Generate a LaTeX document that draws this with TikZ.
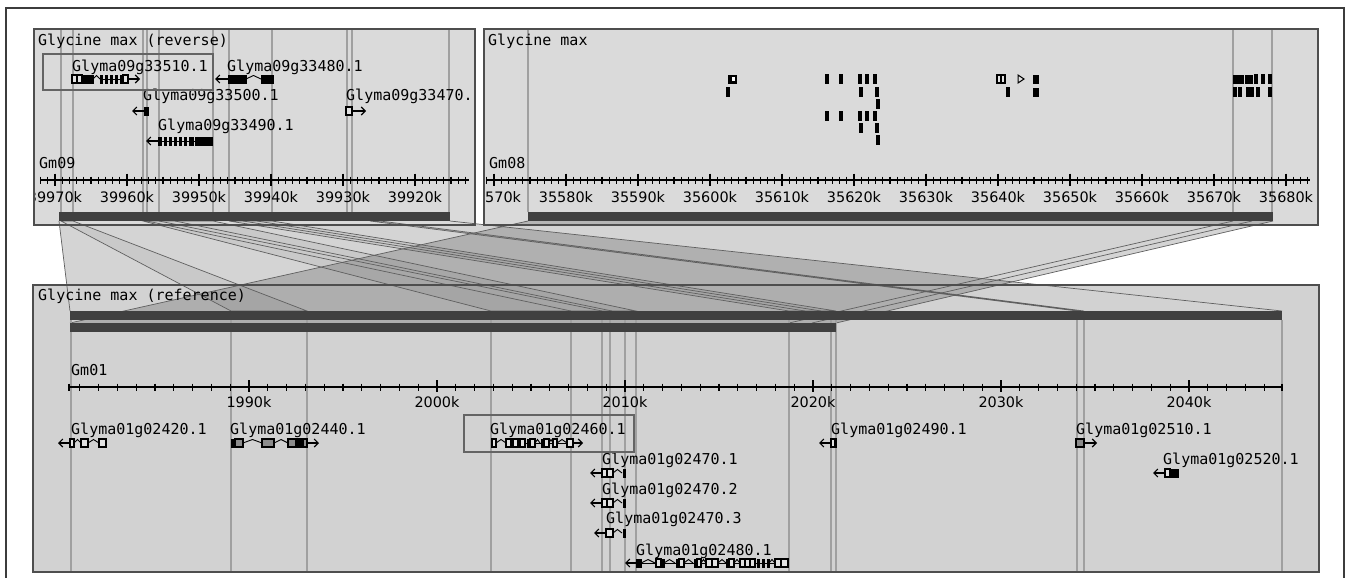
\documentclass[tikz,border=0pt]{standalone}
\usepackage{fontspec}
\usetikzlibrary{arrows.meta}
\newfontfamily\monofont{DejaVu Sans Mono}
\newfontfamily\tickfont{DejaVu Sans}
\definecolor{pbgtop}{RGB}{218,218,218}
\definecolor{pbgbot}{RGB}{210,210,210}
\definecolor{bardark}{RGB}{64,64,64}
\definecolor{vgray}{RGB}{160,160,160}
\definecolor{pborder}{RGB}{78,78,78}
\definecolor{hgray}{RGB}{100,100,100}
\definecolor{rline}{RGB}{95,95,95}
\definecolor{exlight}{RGB}{226,226,226}
\definecolor{exmid}{RGB}{140,140,140}
\definecolor{frame}{RGB}{60,60,60}
\tikzset{
  panelbg/.style={fill=#1, draw=none},
  panelborder/.style={draw=pborder, line width=1.8pt},
  vline/.style={draw=vgray, line width=1.2pt},
  darkbar/.style={fill=bardark, draw=none},
  axisline/.style={draw=black, line width=1.2pt},
  tickline/.style={draw=black, line width=1.1pt},
  mono/.style={font=\monofont\fontsize{15}{15}\selectfont, anchor=base west, inner sep=0pt},
  ticklbl/.style={font=\tickfont\fontsize{14.4}{14.4}\selectfont, anchor=base, inner sep=0pt},
  exon/.style={fill=black, draw=black, line width=0.6pt},
  exonopen/.style={fill=exlight, draw=black, line width=1.2pt},
  exongray/.style={fill=exmid, draw=black, line width=1.2pt},
  intron/.style={draw=black, line width=0.9pt},
  strand/.style={draw=black, line width=1.1pt, -{Straight Barb[length=4pt,width=8pt]}},
  ribfill/.style={fill=black, fill opacity=0.17, draw=none},
  subrib/.style={fill=black, fill opacity=0.05, draw=rline, draw opacity=1, line width=0.7pt},
  ribedge/.style={draw=rline, line width=0.7pt},
  hibox/.style={draw=hgray, line width=2.4pt},
}
\newcommand{\gbox}[4][exon]{\path[#1] (#2,#4-4) rectangle (#3,#4+4);}
\newcommand{\gcaret}[3]{\draw[intron] (#1,#3) -- ({(#1+#2)/2},#3-3.5) -- (#2,#3);}
\newcommand{\gtick}[2]{\path[exon] (#1-1,#2-4) rectangle (#1+1,#2+4);}
\newcommand{\gline}[3]{\draw[intron] (#1,#3) -- (#2,#3);}
\newcommand{\gdir}[3]{\draw[strand] (#1,#3) -- (#2,#3);}
\newcommand{\gmark}[3][2.6]{\path[exon] (#2-#1/2,#3-4.5) rectangle (#2+#1/2,#3+4.5);}
\begin{document}
\begin{tikzpicture}[x=1pt,y=-1pt]
\useasboundingbox (0,0) rectangle (1345,578);
\clip (0,0) rectangle (1345,578);
\fill[white] (0,0) rectangle (1345,578);
% outer frame
\draw[frame, line width=1.5pt] (6,600) -- (6,8) -- (1344,8) -- (1344,600);

% ribbon from panel 1 (under panel backgrounds)
\path[ribfill] (59,221) -- (450,221) -- (1282,311) -- (70,311) -- cycle;

% panel backgrounds
\path[panelbg=pbgtop] (34,29) rectangle (475,225);
\path[panelbg=pbgtop] (484,29) rectangle (1318,225);
\path[panelbg=pbgbot] (33,285) rectangle (1319,572);

% ribbon from panel 2
\path[ribfill] (528,221) -- (1273,221) -- (836,323) -- (70,323) -- cycle;
% sub ribbons
\path[subrib] (61,221) -- (73,221) -- (307,311) -- (231,311) -- cycle;
\path[subrib] (143,221) -- (213,221) -- (636,311) -- (491,311) -- cycle;
\path[subrib] (229,221) -- (272,221) -- (836,311) -- (789,311) -- cycle;
\path[subrib] (370,221) -- (380,221) -- (1084,311) -- (1077,311) -- cycle;
\foreach \a/\b in {147/571,159/602,175/612,243/805,257/821}
  {\draw[ribedge] (\a,221) -- (\b,311);}
\draw[ribedge] (59,221) -- (70,311);
\draw[ribedge] (450,221) -- (1282,311);
\draw[ribedge] (528,221) -- (70,323);
\draw[ribedge] (1273,221) -- (836,323);
\draw[ribedge] (1233,221) -- (789,323);
\draw[ribedge] (1252,221) -- (812,323);

% ================= PANEL 1 =================
\begin{scope}
\clip (34,29) rectangle (475,225);
\foreach \x in {61,73,143,147,159,213,229,272,347,352,449}
  {\draw[vline] (\x,29) -- (\x,212);}
\path[darkbar] (59,212) rectangle (450,221);
\draw[axisline] (40,180) -- (469,180);
\foreach \i in {0,...,59} {\draw[tickline] ({40.6+7.2*\i},176.5) -- ({40.6+7.2*\i},183.5);}
\foreach \j in {0,...,5} {\draw[tickline] ({55+72*\j},173.5) -- ({55+72*\j},185.5);}
\node[ticklbl] (a1) at (55,202) {39970k};
\node[ticklbl] (a2) at (127,202) {39960k};
\node[ticklbl] (a3) at (199,202) {39950k};
\node[ticklbl] (a4) at (271,202) {39940k};
\node[ticklbl] (a5) at (343,202) {39930k};
\node[ticklbl] (a6) at (415,202) {39920k};
\node[mono] (t1) at (38,46) {Glycine max (reverse)};
\node[mono] (c1) at (39,168) {Gm09};
% genes
\node[mono] (g1) at (72,72) {Glyma09g33510.1};
\gbox[exonopen]{72}{77}{79} \gbox[exonopen]{77}{82}{79} \gbox{82}{93}{79}
\gcaret{93}{100}{79} \gline{100}{128}{79}
\gtick{101}{79} \gtick{106}{79} \gtick{111}{79} \gtick{116}{79} \gtick{121}{79} \gbox[exonopen]{123}{128}{79}
\gdir{128}{140}{79}
\node[mono] (g2) at (227,72) {Glyma09g33480.1};
\gdir{228}{215}{79} \gbox{228}{246}{79} \gcaret{246}{261}{79} \gbox{261}{273}{79}
\node[mono] (g3) at (143,101) {Glyma09g33500.1};
\gdir{145}{132}{111} \gbox{144}{148}{111}
\node[mono] (g4) at (346,101) {Glyma09g33470.};
\gbox[exonopen]{346}{352}{111} \gdir{352}{366}{111}
\node[mono] (g5) at (158,130) {Glyma09g33490.1};
\gdir{158}{146}{141} \gline{158}{195}{141}
\gbox{158}{161}{141} \gtick{165}{141} \gtick{170}{141} \gtick{175}{141} \gtick{180}{141} \gtick{185}{141} \gbox{189}{193}{141}
\gbox{195}{203}{141} \gbox{204}{212}{141}
\draw[hibox] (43,54) rectangle (213,90);
\end{scope}
\draw[panelborder] (34,29) rectangle (475,225);

% ================= PANEL 2 =================
\begin{scope}
\clip (484,29) rectangle (1318,225);
\foreach \x in {528,1233,1272}
  {\draw[vline] (\x,29) -- (\x,212);}
\path[darkbar] (528,212) rectangle (1273,221);
\draw[axisline] (486,180) -- (1310,180);
\foreach \i in {0,...,114} {\draw[tickline] ({486.8+7.2*\i},176.5) -- ({486.8+7.2*\i},183.5);}
\foreach \j in {0,...,11} {\draw[tickline] ({494+72*\j},173.5) -- ({494+72*\j},185.5);}
\foreach \j [evaluate=\j as \lab using int(3557+\j)] in {0,...,11}
  {\node[ticklbl] (b\j) at ({494+72*\j},202) {\lab0k};}
\node[mono] (t2) at (488,46) {Glycine max};
\node[mono] (c2) at (489,168) {Gm08};
% features
\gbox{728}{736}{79} \path[fill=white] (732,77) rectangle (735,81);
\gmark{728}{92}
\foreach \x in {827,841,860,867,875} {\gmark{\x}{79} \gmark{\x}{116}}
\foreach \x in {861,877} {\gmark{\x}{92} \gmark{\x}{128}}
\gmark{878}{104} \gmark{878}{140}
\gbox[exonopen]{997}{1001}{79} \gbox[exonopen]{1001}{1005}{79}
\draw[black, line width=1pt, fill=exlight] (1018,75) -- (1024,79) -- (1018,83) -- cycle;
\gbox{1033}{1038}{79} \gmark{1008}{92} \gbox{1033}{1038}{92}
\gbox{1233}{1243}{79} \gbox{1245}{1252}{79} \gmark{1256}{79} \gmark{1263}{79} \gmark{1270}{79}
\foreach \x in {1235,1240,1248,1252,1258,1270} {\gmark{\x}{92}}
\end{scope}
\draw[panelborder] (484,29) rectangle (1318,225);

% ================= PANEL 3 =================
\begin{scope}
\clip (33,285) rectangle (1319,572);
\foreach \x in {71,231,307,491,571,602,610,625,636,789,831,836,1077,1084,1282}
  {\draw[vline] (\x,320) -- (\x,572);}
\path[darkbar] (70,311) rectangle (1282,320);
\path[darkbar] (70,323) rectangle (836,332);
\draw[axisline] (69,387) -- (1282,387);
\foreach \i in {0,...,63} {\draw[tickline] ({79.8+18.8*\i},383.5) -- ({79.8+18.8*\i},390.5);}
\draw[tickline] (69,383.5) -- (69,390.5);
\draw[tickline] (1282,383.5) -- (1282,390.5);
\foreach \j in {0,...,5} {\draw[tickline] ({249+188*\j},380) -- ({249+188*\j},392);}
\foreach \j [evaluate=\j as \lab using int(199+\j)] in {0,...,5}
  {\node[ticklbl] (d\j) at ({249+188*\j},407) {\lab0k};}
\node[mono] (t3) at (38,300) {Glycine max (reference)};
\node[mono] (c3) at (71,375) {Gm01};
% genes
\node[mono] (h1) at (71,434) {Glyma01g02420.1};
\gdir{70}{58}{443} \gbox[exonopen]{70}{74}{443} \gcaret{74}{81}{443} \gbox[exonopen]{81}{88}{443}
\gcaret{88}{99}{443} \gbox[exonopen]{99}{106}{443}
\node[mono] (h2) at (230,434) {Glyma01g02440.1};
\gbox{231}{235}{443} \gbox[exongray]{235}{243}{443} \gcaret{243}{262}{443} \gbox[exongray]{262}{274}{443}
\gcaret{274}{288}{443} \gbox[exongray]{288}{307}{443} \gbox{295}{303}{443} \gdir{307}{319}{443}
\node[mono] (h3) at (490,434) {Glyma01g02460.1};
\gbox[exonopen]{492}{496}{443} \gcaret{496}{506}{443} \gbox[exonopen]{506}{511}{443}
\gline{511}{567}{443}
\gbox[exonopen]{513}{518}{443} \gbox[exonopen]{520}{525}{443} \gtick{528}{443}
\gbox[exonopen]{530}{535}{443} \gcaret{535}{540}{443} \gtick{542}{443}
\gbox[exonopen]{544}{549}{443} \gcaret{549}{553}{443} \gbox[exonopen]{553}{557}{443}
\gcaret{557}{567}{443} \gbox[exonopen]{567}{573}{443} \gdir{573}{583}{443}
\node[mono] (h4) at (602,464) {Glyma01g02470.1};
\gdir{602}{590}{473} \gbox[exonopen]{602}{607}{473} \gbox[exonopen]{607}{613}{473}
\gcaret{613}{622}{473} \gtick{624}{473}
\node[mono] (h5) at (602,494) {Glyma01g02470.2};
\gdir{602}{590}{503} \gbox[exonopen]{602}{607}{503} \gbox[exonopen]{607}{613}{503}
\gcaret{613}{622}{503} \gtick{624}{503}
\node[mono] (h6) at (606,523) {Glyma01g02470.3};
\gdir{606}{594}{533} \gbox[exonopen]{606}{613}{533} \gcaret{613}{622}{533} \gtick{624}{533}
\node[mono] (h7) at (636,555) {Glyma01g02480.1};
\gdir{636}{625}{563} \gline{636}{788}{563} \gbox{636}{641}{563} \gcaret{641}{655}{563}
\gbox[exonopen]{656}{661}{563} \gtick{663}{563} \gcaret{664}{675}{563} \gtick{677}{563}
\gbox[exonopen]{679}{684}{563} \gcaret{684}{693}{563} \gtick{695}{563}
\gbox[exonopen]{697}{701}{563} \gcaret{701}{706}{563} \gbox[exonopen]{706}{712}{563}
\gbox[exonopen]{712}{718}{563} \gcaret{718}{726}{563} \gtick{727}{563}
\gbox[exonopen]{729}{734}{563} \gcaret{734}{740}{563} \gbox[exonopen]{740}{745}{563}
\gbox[exonopen]{745}{750}{563} \gbox[exonopen]{750}{755}{563}
\gtick{758}{563} \gtick{763}{563} \gtick{768}{563} \gcaret{769}{775}{563}
\gbox[exonopen]{775}{781}{563} \gbox[exonopen]{781}{788}{563}
\node[mono] (h8) at (831,434) {Glyma01g02490.1};
\gdir{831}{819}{443} \gbox[exonopen]{831}{836}{443} \gtick{835}{443}
\node[mono] (h9) at (1076,434) {Glyma01g02510.1};
\gbox[exongray]{1076}{1084}{443} \gdir{1084}{1097}{443}
\node[mono] (h10) at (1163,464) {Glyma01g02520.1};
\gdir{1165}{1153}{473} \gbox[exonopen]{1165}{1170}{473} \gbox{1170}{1178}{473}
\draw[hibox] (464,415) rectangle (634,452);
\end{scope}
\draw[panelborder] (33,285) rectangle (1319,572);
\end{tikzpicture}
\end{document}
